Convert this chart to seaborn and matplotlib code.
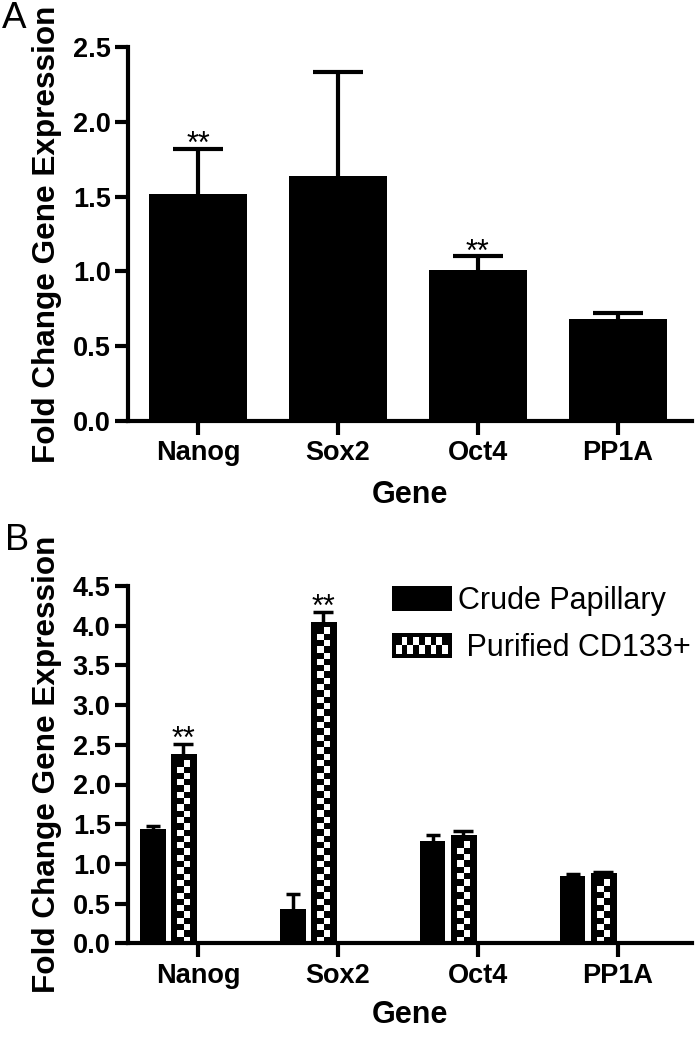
import numpy as np
import pandas as pd
import matplotlib
matplotlib.use('Agg')
import matplotlib.pyplot as plt
import seaborn as sns
from matplotlib.patches import Patch, Rectangle

genes = ['Nanog', 'Sox2', 'Oct4', 'PP1A']

# panel A
fold_a = [1.52, 1.64, 1.01, 0.68]
err_a = [0.30, 0.69, 0.09, 0.04]
stars_a = ['**', '', '**', '']

# panel B
groups = ['Crude Papillary', ' Purified CD133+']
crude_b = [1.44, 0.43, 1.29, 0.85]
crude_err_b = [0.04, 0.19, 0.08, 0.02]
purified_b = [2.38, 4.05, 1.36, 0.88]
purified_err_b = [0.13, 0.12, 0.05, 0.02]
stars_b = ['**', '**', '', '']

sns.set_style('ticks', rc={'axes.edgecolor': 'black', 'text.color': 'black',
                           'axes.labelcolor': 'black', 'xtick.color': 'black',
                           'ytick.color': 'black'})
plt.rcParams['font.family'] = ['Liberation Sans', 'DejaVu Sans']

W, H = 696, 1050
fig = plt.figure(figsize=(W / 100, H / 100), dpi=100)
ax_a = fig.add_axes([128 / W, 1 - 421 / H, 564 / W, 374 / H])
ax_b = fig.add_axes([128 / W, 1 - 943.3 / H, 564 / W, 357.3 / H])


def style_axes(ax, ymax, xlim, tick_shift, xpad):
    sns.despine(ax=ax)
    for s in ['left', 'bottom']:
        ax.spines[s].set_linewidth(3)
    ax.tick_params(axis='both', width=3, labelsize=19.5)
    ax.tick_params(axis='y', length=9.5, pad=3)
    ax.tick_params(axis='x', length=10, pad=4)
    yt = np.arange(0, ymax + 0.01, 0.5)
    ax.set_yticks(yt, labels=[f'{t:.1f}' for t in yt], fontweight='bold')
    ax.set_xticks(np.arange(len(genes)) + tick_shift, labels=genes, fontweight='bold')
    ax.set_ylim(0, ymax)
    ax.set_xlim(*xlim)
    ax.set_xlabel('Gene', fontsize=22, fontweight='bold', labelpad=xpad)
    ax.set_ylabel('Fold Change Gene Expression', fontsize=22.7, fontweight='bold', labelpad=7.5)


def upper_errorbar(ax, xs, vals, errs, cap, lw):
    _, caps, _ = ax.errorbar(xs, vals, yerr=[np.zeros(len(vals)), errs], fmt='none',
                             ecolor='black', elinewidth=lw, capsize=cap, capthick=lw, zorder=3)
    for c in caps:
        if np.allclose(c.get_ydata(), vals):
            c.set_visible(False)


# ---- panel A
df_a = pd.DataFrame({'gene': genes, 'fold': fold_a})
sns.barplot(data=df_a, x='gene', y='fold', color='black', saturation=1, width=0.7,
            errorbar=None, linewidth=0, ax=ax_a)
xs_a = [p.get_x() + p.get_width() / 2 for p in ax_a.patches]
upper_errorbar(ax_a, xs_a, fold_a, err_a, 18, 3)
for x, v, e, s in zip(xs_a, fold_a, err_a, stars_a):
    if s:
        ax_a.annotate(s, (x, v + e), xytext=(0, -3), textcoords='offset points',
                      ha='center', va='baseline', fontsize=22)
style_axes(ax_a, 2.5, (-0.5, 3.53), 0, 10)

# ---- panel B
df_b = pd.DataFrame({'gene': genes * 2,
                     'group': [groups[0]] * 4 + [groups[1]] * 4,
                     'fold': crude_b + purified_b})
sns.barplot(data=df_b, x='gene', y='fold', hue='group', palette=['black', 'black'],
            saturation=1, width=0.43, gap=0.167, errorbar=None, legend=False,
            linewidth=0, ax=ax_b)
style_axes(ax_b, 4.5, (-0.286, 3.743), 0.214, 8)

# checkerboard fill for the purified bars
cell = 6.3
for bar in ax_b.containers[1]:
    x0, y0, w, h = bar.get_x(), bar.get_y(), bar.get_width(), bar.get_height()
    (px0, py0), (px1, py1) = ax_b.transData.transform([(x0, y0), (x0 + w, y0 + h)])
    nrow = max(int(round((py1 - py0) / cell)), 1)
    grid = (np.add.outer(np.arange(nrow), np.arange(4)) % 2).astype(float)
    grid[:, 0] = 0
    grid[:, -1] = 0
    grid[0, :] = 0
    img = ax_b.imshow(grid, cmap='gray', vmin=0, vmax=1, extent=(x0, x0 + w, y0, y0 + h),
                      aspect='auto', interpolation='nearest', origin='upper', zorder=2)
    img.set_clip_path(bar)
ax_b.set_xlim(-0.286, 3.743)
ax_b.set_ylim(0, 4.5)

upper_errorbar(ax_b, [p.get_x() + p.get_width() / 2 for p in ax_b.containers[0]],
               crude_b, crude_err_b, 5, 2.5)
xs_p = [p.get_x() + p.get_width() / 2 for p in ax_b.containers[1]]
upper_errorbar(ax_b, xs_p, purified_b, purified_err_b, 7, 2.5)
for x, v, e, s in zip(xs_p, purified_b, purified_err_b, stars_b):
    if s:
        ax_b.annotate(s, (x, v + e), xytext=(0, -3), textcoords='offset points',
                      ha='center', va='baseline', fontsize=22)


class CheckerHandler:
    def legend_artist(self, legend, orig_handle, fontsize, handlebox):
        x0, y0 = -handlebox.xdescent, -handlebox.ydescent
        w, h = handlebox.width, handlebox.height
        tr = handlebox.get_transform()
        box = Rectangle((x0, y0), w, h, facecolor='black', edgecolor='none', transform=tr)
        handlebox.add_artist(box)
        b = h * 0.15
        ncol, nrow = 9, 2
        cw, ch = (w - 2 * b) / ncol, (h - 2 * b) / nrow
        for r in range(nrow):
            for c in range(ncol):
                if (r + c) % 2 == 0:
                    handlebox.add_artist(Rectangle((x0 + b + c * cw, y0 + b + r * ch), cw, ch,
                                                   facecolor='white', edgecolor='none',
                                                   transform=tr))
        return box


handles = [Patch(facecolor='black', edgecolor='none'), Patch(facecolor='black')]
ax_b.legend(handles, groups, handler_map={handles[1]: CheckerHandler()},
            loc='upper left', bbox_to_anchor=(392 / W, 1 - 586 / H),
            bbox_transform=fig.transFigure, frameon=False, fontsize=22,
            handlelength=1.96, handleheight=0.88, handletextpad=0.2,
            labelspacing=0.55, borderpad=0, borderaxespad=0)

fig.text(2 / W, 1 - 28 / H, 'A', fontsize=26.5, ha='left', va='baseline')
fig.text(5 / W, 1 - 550 / H, 'B', fontsize=26, ha='left', va='baseline')

fig.savefig('out.png', dpi=100)
